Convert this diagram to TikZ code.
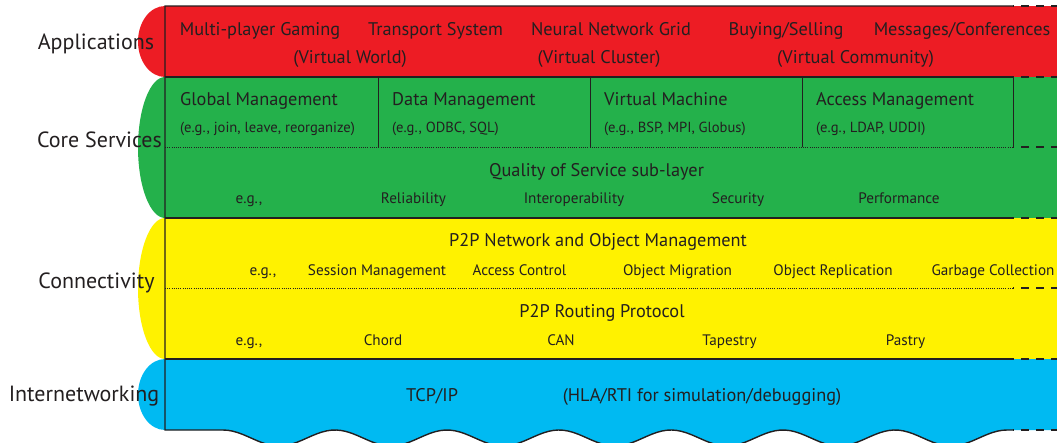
\documentclass[tikz,border=0pt]{standalone}
\usepackage{fontspec}
\setmainfont{PT Sans}
\usetikzlibrary{calc}
\definecolor{appred}{HTML}{ED1C24}
\definecolor{coregreen}{HTML}{24B14B}
\definecolor{connyellow}{HTML}{FFF200}
\definecolor{netblue}{HTML}{00BAF2}
\definecolor{ink}{HTML}{231F20}

\begin{document}
\begin{tikzpicture}[
	x=1pt, y=-1pt,
	every node/.style={text=ink, inner sep=0pt},
	layertxt/.style = {font=\fontsize{22}{24}\selectfont, anchor=base},
	titletxt/.style = {font=\fontsize{18.3}{20}\selectfont, anchor=base},
	itemtxt/.style = {font=\fontsize{15.2}{17}\selectfont, anchor=base},
	egtxt/.style = {font=\fontsize{14.6}{16}\selectfont, anchor=base west},
	border/.style = {draw=ink, line width=1.4pt},
	sepline/.style = {draw=ink, line width=1pt},
	subline/.style = {draw=ink, line width=0.6pt, dash pattern=on 1pt off 1.2pt},
	tail/.style = {draw=ink, line width=1.4pt, dash pattern=on 8pt off 7pt, dash phase=7pt}
  ]
	\useasboundingbox (0,0) rectangle (1057,442);

	% corner points of the stack
	\coordinate (@tl) at (165,6);
	\coordinate (@bl) at (165,430);
	\coordinate (@end) at (1013,6);

	% rounded caps on the left
	\fill[appred] (165,41.5) ellipse [x radius=27pt, y radius=35.5pt];
	\fill[coregreen] (165,147.5) ellipse [x radius=27pt, y radius=70.5pt];
	\fill[connyellow] (165,288.5) ellipse [x radius=27pt, y radius=70.5pt];
	\fill[netblue] (165,394.5) ellipse [x radius=27pt, y radius=35.5pt];

	% layer bands
	\fill[appred] (165,6) rectangle (1057,77);
	\fill[coregreen] (165,77) rectangle (1057,218);
	\fill[connyellow] (165,218) rectangle (1057,359);
	\fill[netblue] (165,359) -- (1057,359) -- (1057,430) -- (1007,430)
		-- plot[domain=1007:223, samples=160] (\x, {438-8*cos((\x-223)/112*360)})
		-- (165,430) -- cycle;

	% outline
	\draw[border] (@end) -- (@tl) -- (@bl) -- (223,430)
		-- plot[domain=223:1007, samples=160] (\x, {438-8*cos((\x-223)/112*360)})
		-- (1013,430);
	\draw[border] (165,77) -- (1013,77);
	\draw[border] (165,218) -- (1013,218);
	\draw[border] (165,359) -- (1013,359);
	\draw[subline] (165,147) -- (1013,147);
	\draw[subline] (165,288) -- (1013,288);
	\draw[sepline] (378,77) -- (378,147);
	\draw[sepline] (590,77) -- (590,147);
	\draw[sepline] (802,77) -- (802,147);
	\draw[sepline] (1013,77) -- (1013,147);

	% open end on the right
	\draw[tail] (1013,6) -- (1057,6);
	\draw[tail] (1013,77) -- (1057,77);
	\draw[tail] (1013,147) -- (1057,147);
	\draw[tail] (1013,218) -- (1057,218);
	\draw[tail] (1013,288) -- (1057,288);
	\draw[tail] (1013,359) -- (1057,359);
	\draw[tail] (1013,430) -- (1057,430);

	% layer names
	\node[layertxt] (apps) at (96,49) {Applications};
	\node[layertxt] (core) at (99.5,147) {Core Services};
	\node[layertxt] (conn) at (96.5,288) {Connectivity};
	\node[layertxt] (inet) at (84,401.5) {Internetworking};

	% applications
	\node[titletxt] (gaming) at (260,35) {Multi-player Gaming};
	\node[titletxt] (transport) at (435.5,35) {Transport System};
	\node[titletxt] (neural) at (611,35) {Neural Network Grid};
	\node[titletxt] (buying) at (786,35) {Buying/Selling};
	\node[titletxt] (messages) at (962,35) {Messages/Conferences};
	\node[titletxt] (vworld) at (350,63) {(Virtual World)};
	\node[titletxt] (vcluster) at (599,63) {(Virtual Cluster)};
	\node[titletxt] (vcommunity) at (855.5,63) {(Virtual Community)};

	% core services
	\node[titletxt, anchor=base west] (global) at (180,105) {Global Management};
	\node[titletxt, anchor=base west] (data) at (392,105) {Data Management};
	\node[titletxt, anchor=base west] (vm) at (604,105) {Virtual Machine};
	\node[titletxt, anchor=base west] (access) at (816,105) {Access Management};
	\node[egtxt] (globaleg) at (180,132.5) {(e.g., join, leave, reorganize)};
	\node[egtxt] (dataeg) at (392,132.5) {(e.g., ODBC, SQL)};
	\node[egtxt] (vmeg) at (604,132.5) {(e.g., BSP, MPI, Globus)};
	\node[egtxt] (accesseg) at (816,132.5) {(e.g., LDAP, UDDI)};

	\node[titletxt] (qos) at (596.5,176) {Quality of Service sub-layer};
	\node[itemtxt] (qoseg) at (249,203.5) {e.g.,};
	\node[itemtxt] (reliab) at (413.5,203.5) {Reliability};
	\node[itemtxt] (interop) at (574,203.5) {Interoperability};
	\node[itemtxt] (security) at (738,203.5) {Security};
	\node[itemtxt] (perf) at (899,203.5) {Performance};

	% connectivity
	\node[titletxt] (objmgmt) at (598,246) {P2P Network and Object Management};
	\node[itemtxt] (objeg) at (263,275) {e.g.,};
	\node[itemtxt] (session) at (377,275) {Session Management};
	\node[itemtxt] (accctrl) at (519.5,275) {Access Control};
	\node[itemtxt] (migration) at (677.5,275) {Object Migration};
	\node[itemtxt] (replication) at (833,275) {Object Replication};
	\node[itemtxt] (garbage) at (993,275) {Garbage Collection};

	\node[titletxt] (routing) at (602,317) {P2P Routing Protocol};
	\node[itemtxt] (routeg) at (249,345) {e.g.,};
	\node[itemtxt] (chord) at (383,345) {Chord};
	\node[itemtxt] (can) at (561,345) {CAN};
	\node[itemtxt] (tapestry) at (729.5,345) {Tapestry};
	\node[itemtxt] (pastry) at (905.5,345) {Pastry};

	% internetworking
	\node[titletxt] (tcpip) at (432,401.5) {TCP/IP};
	\node[titletxt] (hla) at (702,401.5) {(HLA/RTI for simulation/debugging)};

\end{tikzpicture}
\end{document}
